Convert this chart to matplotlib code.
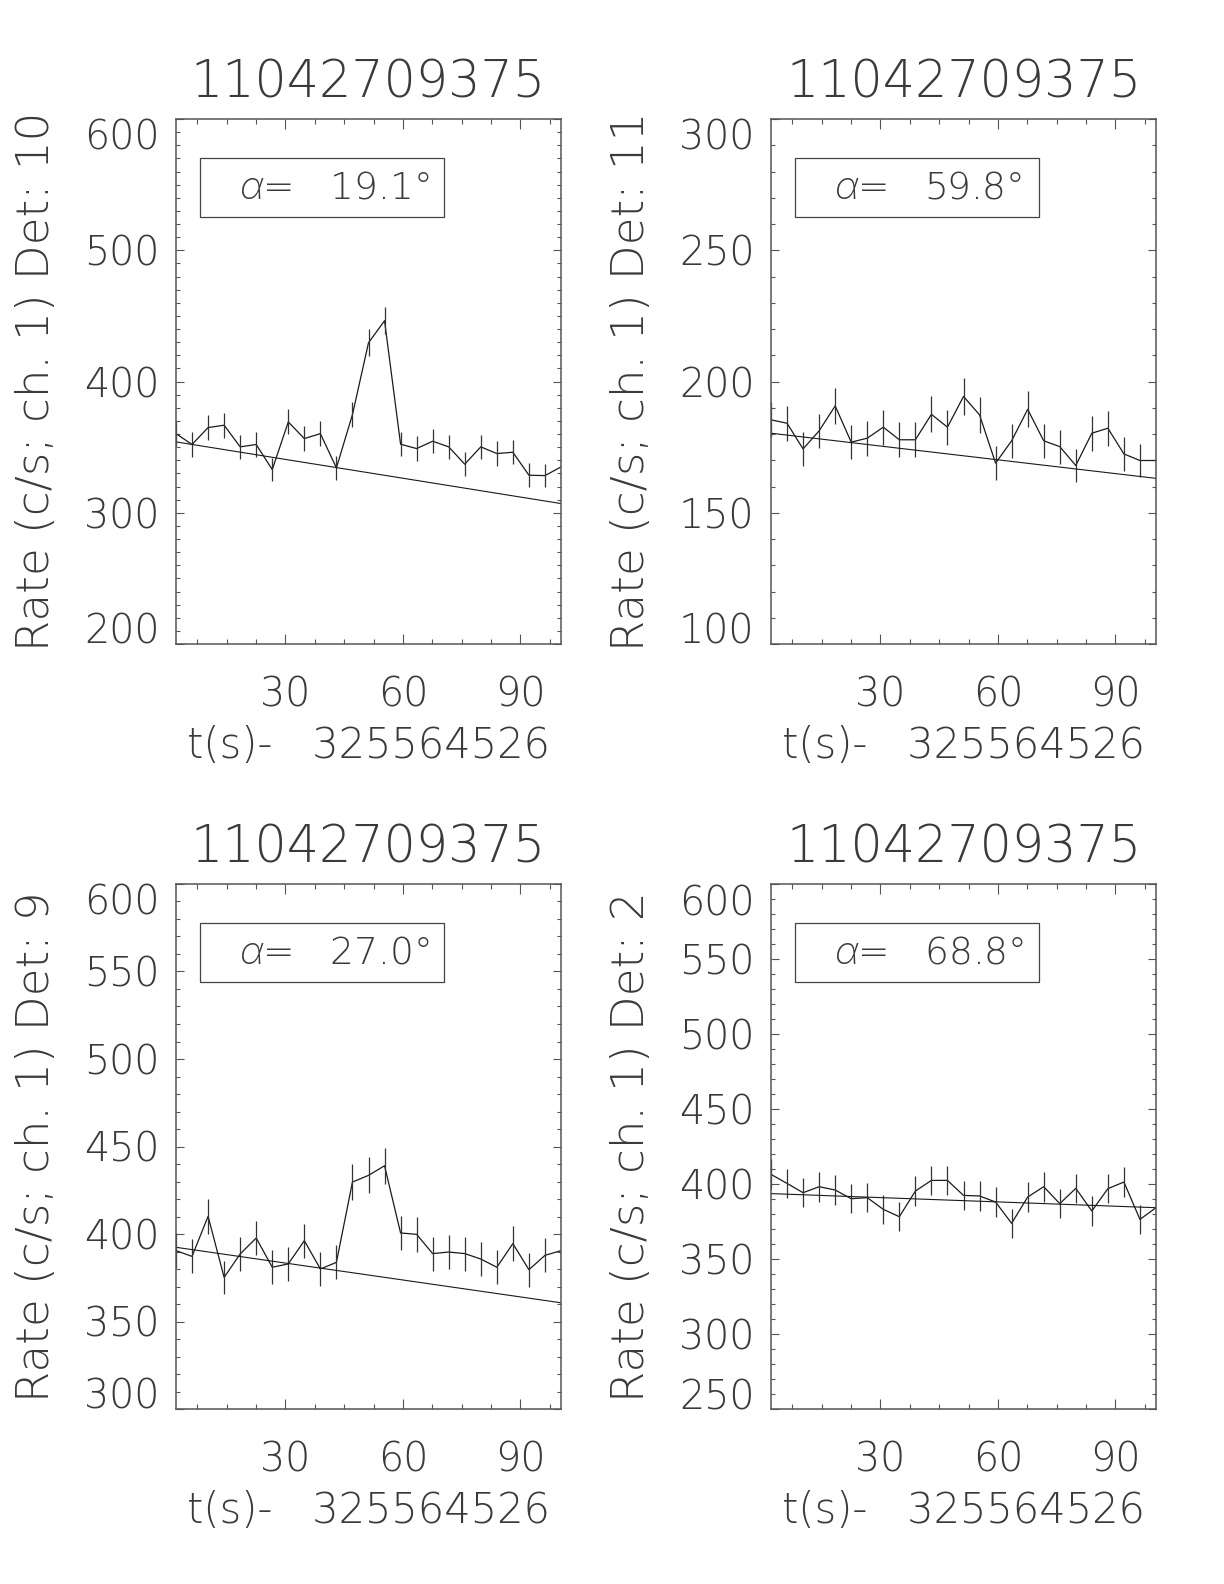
import numpy as np
import matplotlib
matplotlib.use('Agg')
import matplotlib.pyplot as plt
from matplotlib import font_manager as fm
from matplotlib.ticker import MultipleLocator, FixedLocator
from matplotlib.patches import Rectangle

# pick a thin sans face with wide digits (Hershey-like look)
_dv = fm.findfont(fm.FontProperties(family='DejaVu Sans', weight=200),
                  fallback_to_default=False)
if 'ExtraLight' in _dv:
    FAMILY, WEIGHT = 'DejaVu Sans', 200
else:
    FAMILY, WEIGHT = 'Inter', 200

plt.rcParams['font.family'] = [FAMILY, 'DejaVu Sans']
plt.rcParams['font.weight'] = WEIGHT
plt.rcParams['mathtext.fontset'] = 'custom'
plt.rcParams['mathtext.it'] = 'Inter:italic:extralight'
plt.rcParams['mathtext.rm'] = f'{FAMILY}:extralight'

# ---------------- data ----------------
trigger_id = "11042709375"
t_ref = 325564526
time = [2.048, 6.144, 10.24, 14.336, 18.432, 22.528, 26.624, 30.72, 34.816,
        38.912, 43.008, 47.104, 51.2, 55.296, 59.392, 63.488, 67.584, 71.68,
        75.776, 79.872, 83.968, 88.064, 92.16, 96.256, 100.352]

detectors = [10, 11, 9, 2]
alphas = [19.1, 59.8, 27.0, 68.8]

rate_det10 = [360.3, 352.0, 364.9, 366.7, 350.2, 352.0, 332.9, 369.2, 356.5,
              360.3, 334.2, 374.8, 429.5, 446.3, 352.2, 348.9, 354.5, 350.2,
              337.0, 350.2, 345.1, 346.1, 328.6, 328.3, 334.9]
err_det10 = [9.4, 9.3, 9.4, 9.5, 9.2, 9.3, 9.0, 9.5, 9.3, 9.4, 9.0, 9.6, 10.2,
             10.4, 9.3, 9.2, 9.3, 9.2, 9.1, 9.2, 9.2, 9.2, 9.0, 8.9, 9.0]
bkg_det10 = [354.0, 307.0]

rate_det11 = [185.4, 184.1, 174.3, 181.2, 190.7, 176.9, 178.4, 182.6, 177.8,
              177.8, 187.5, 182.6, 194.3, 187.3, 168.9, 177.4, 189.4, 177.4,
              175.2, 168.0, 180.3, 182.2, 172.4, 169.9, 169.9]
err_det11 = [6.7, 6.7, 6.5, 6.6, 6.8, 6.6, 6.6, 6.7, 6.6, 6.6, 6.8, 6.7, 6.9,
             6.8, 6.4, 6.6, 6.8, 6.6, 6.5, 6.4, 6.6, 6.7, 6.5, 6.4, 6.4]
bkg_det11 = [180.3, 163.1]

rate_det9 = [390.5, 387.2, 410.1, 375.2, 388.6, 397.7, 381.0, 382.9, 396.2,
             380.0, 383.8, 429.7, 433.5, 439.0, 400.6, 399.8, 388.8, 389.7,
             388.8, 385.7, 381.0, 394.5, 379.6, 387.8, 390.5]
err_det9 = [9.8, 9.7, 10.0, 9.6, 9.7, 9.9, 9.6, 9.7, 9.8, 9.6, 9.7, 10.2, 10.3,
            10.4, 9.9, 9.9, 9.7, 9.8, 9.7, 9.7, 9.6, 9.8, 9.6, 9.7, 9.8]
bkg_det9 = [392.4, 360.7]

rate_det2 = [406.4, 400.4, 394.2, 398.2, 396.0, 390.2, 390.9, 383.1, 378.2,
             395.3, 402.4, 402.4, 392.4, 392.0, 388.0, 373.8, 391.3, 398.2,
             386.9, 397.1, 382.0, 396.9, 401.3, 376.4, 384.2]
err_det2 = [10.0, 9.9, 9.8, 9.9, 9.8, 9.8, 9.8, 9.7, 9.6, 9.8, 9.9, 9.9, 9.8,
            9.8, 9.7, 9.6, 9.8, 9.9, 9.7, 9.8, 9.7, 9.8, 9.9, 9.6, 9.7]
bkg_det2 = [393.6, 384.2]

rates = [rate_det10, rate_det11, rate_det9, rate_det2]
errors = [err_det10, err_det11, err_det9, err_det2]
backgrounds = [bkg_det10, bkg_det11, bkg_det9, bkg_det2]

y_limits = [(200, 600), (100, 300), (300, 600), (250, 600)]
y_major = [100, 50, 50, 50]
x_ticks = [30, 60, 90]

# ---------------- layout / style ----------------
W, H = 1224, 1584
fig = plt.figure(figsize=(W / 100, H / 100), dpi=100)

col_x = [176 / W, 771 / W]
row_y = [1 - 644 / H, 1 - 1409 / H]
aw, ah = 385 / W, 525 / H
positions = [(col_x[0], row_y[0]), (col_x[1], row_y[0]),
             (col_x[0], row_y[1]), (col_x[1], row_y[1])]

txt_col = '#3a3a3a'
line_col = '#1a1a1a'
axis_col = '#555555'

axes = []
for k in range(4):
    ax = fig.add_axes([positions[k][0], positions[k][1], aw, ah])
    axes.append(ax)
    ax.plot(time, rates[k], color=line_col, lw=0.9)
    ax.errorbar(time, rates[k], yerr=errors[k], fmt='none', ecolor='#333333',
                elinewidth=0.9, capsize=0)
    ax.plot([time[0], time[-1]], backgrounds[k], color=line_col, lw=0.8)

    ax.set_xlim(time[0], time[-1])
    ax.set_ylim(*y_limits[k])
    ax.xaxis.set_major_locator(FixedLocator(x_ticks))
    ax.xaxis.set_minor_locator(MultipleLocator(7.5))
    ax.yaxis.set_major_locator(MultipleLocator(y_major[k]))
    ax.yaxis.set_minor_locator(MultipleLocator(10))

    for s in ax.spines.values():
        s.set_color(axis_col)
        s.set_linewidth(1.1)

    ax.tick_params(axis='both', which='both', direction='in', top=True,
                   right=True, color=axis_col, width=0.8, labelcolor=txt_col)
    ax.tick_params(axis='x', which='major', length=7.5, pad=23, labelsize=28.5)
    ax.tick_params(axis='x', which='minor', length=3.8)
    ax.tick_params(axis='y', which='major', length=5.5, pad=12, labelsize=28.5)
    ax.tick_params(axis='y', which='minor', length=2.8)

    ax.set_xlabel(f"t(s)-   {t_ref}", fontsize=30, color=txt_col, va='center',
                  fontweight=WEIGHT)
    ax.xaxis.set_label_coords(0.5, -0.193)
    ax.set_ylabel(f"Rate (c/s; ch. 1) Det: {detectors[k]}", fontsize=32.5,
                  color=txt_col, va='center', ha='center', fontweight=WEIGHT)
    ax.yaxis.set_label_coords(-0.363, 0.5)
    ax.set_title(trigger_id, fontsize=36.5, color=txt_col, y=1.053,
                 va='center', fontweight=WEIGHT)

    ax.add_patch(Rectangle((0.062, 0.813), 0.634, 0.113, transform=ax.transAxes,
                           fill=False, edgecolor='#444444', lw=0.9))
    ax.text(0.164, 0.8695, r'$\alpha$=   ' + f"{alphas[k]:.1f}°",
            transform=ax.transAxes, ha='left', va='center', fontsize=27,
            color=txt_col, fontweight=WEIGHT)

fig.canvas.draw()
# IDL-style: the end labels of the y axis are pulled inside the axis range
for k, ax in enumerate(axes):
    lo, hi = y_limits[k]
    for tick in ax.yaxis.get_major_ticks():
        lab = tick.label1
        lab.set_fontweight(WEIGHT)
        if abs(tick.get_loc() - hi) < 1e-6:
            lab.set_verticalalignment('top')
        elif abs(tick.get_loc() - lo) < 1e-6:
            lab.set_verticalalignment('baseline')
    for tick in ax.xaxis.get_major_ticks():
        tick.label1.set_fontweight(WEIGHT)

fig.savefig('out.png', dpi=100)
